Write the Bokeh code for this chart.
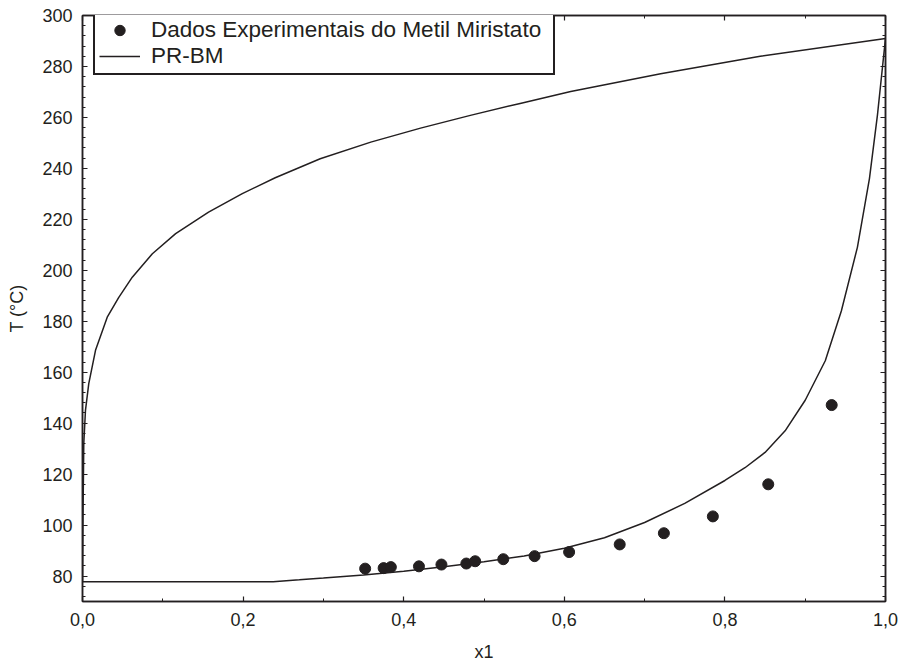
from bokeh.plotting import figure
from bokeh.models import (Range1d, LinearAxis, SingleIntervalTicker,
                          CustomJSTickFormatter, Legend, LegendItem)
from bokeh.embed import file_html
from bokeh.resources import INLINE

# Experimental data (Metil Miristato)
exp_x = [0.352, 0.375, 0.384, 0.419, 0.447, 0.478, 0.489, 0.524, 0.563,
         0.606, 0.669, 0.724, 0.785, 0.854, 0.933]
exp_T = [82.9, 83.1, 83.5, 83.8, 84.5, 84.9, 85.8, 86.6, 87.8,
         89.4, 92.4, 96.8, 103.4, 116.0, 147.1]

# PR-BM model: bubble (lower) curve
bub_x = [0.0, 0.2375, 0.27, 0.30, 0.35, 0.40, 0.45, 0.50, 0.55, 0.60, 0.65,
         0.70, 0.75, 0.80, 0.825, 0.85, 0.875, 0.90, 0.925, 0.945, 0.965,
         0.98, 0.99, 1.0]
bub_T = [77.8, 77.8, 78.5, 79.2, 80.4, 81.9, 83.6, 85.6, 87.9, 90.9, 95.0,
         101.0, 108.5, 117.5, 122.5, 128.5, 137.0, 149.0, 164.5, 184.0, 209.0,
         236.0, 261.0, 291.0]

# PR-BM model: dew (upper) curve
dew_x = [0.0, 0.0005, 0.0012, 0.0016, 0.0037, 0.0078, 0.0162, 0.0308, 0.045,
         0.062, 0.087, 0.116, 0.157, 0.199, 0.240, 0.296, 0.359, 0.421, 0.483,
         0.545, 0.608, 0.720, 0.844, 1.0]
dew_T = [77.8, 100.0, 120.0, 132.0, 145.0, 155.5, 168.6, 181.6, 189.3,
         197.3, 206.5, 214.4, 222.8, 230.1, 236.3, 243.8, 250.3, 255.8, 260.8,
         265.5, 270.2, 277.1, 284.0, 291.0]

x_label = "x1"
y_label = "T (°C)"
legend_labels = ["Dados Experimentais do Metil Miristato", "PR-BM"]

INK = "#231f20"
FONT = "Liberation Sans"

p = figure(width=902, height=666, output_backend="svg", toolbar_location=None,
           x_range=Range1d(0, 1), y_range=Range1d(70, 300),
           min_border_left=82, min_border_right=17, min_border_top=15,
           min_border_bottom=65)
p.xgrid.visible = False
p.ygrid.visible = False
p.outline_line_color = INK
p.outline_line_width = 1.5

xt = SingleIntervalTicker(interval=0.2, num_minor_ticks=2)
yt = SingleIntervalTicker(interval=20, num_minor_ticks=5)
fmt = CustomJSTickFormatter(code="return tick.toFixed(1).replace('.', ',');")


def style(ax):
    ax.axis_line_color = INK
    ax.axis_line_width = 1.5
    ax.major_tick_in = 5
    ax.major_tick_out = 0
    ax.minor_tick_in = 3
    ax.minor_tick_out = 0
    ax.major_tick_line_color = INK
    ax.minor_tick_line_color = INK
    ax.major_tick_line_width = 1.2
    ax.minor_tick_line_width = 1
    ax.major_label_text_font = FONT
    ax.major_label_text_font_size = "18px"
    ax.major_label_text_color = INK
    ax.axis_label_text_font = FONT
    ax.axis_label_text_font_size = "18px"
    ax.axis_label_text_font_style = "normal"
    ax.axis_label_text_color = INK


xa = p.xaxis[0]
xa.ticker = xt
xa.formatter = fmt
style(xa)
xa.axis_label = x_label
xa.major_label_standoff = 11
xa.axis_label_standoff = 13

ya = p.yaxis[0]
ya.ticker = yt
style(ya)
ya.axis_label = y_label
ya.major_label_standoff = 10
ya.axis_label_standoff = 12

for loc, tk in (("right", yt), ("above", xt)):
    ax = LinearAxis(ticker=tk)
    style(ax)
    ax.major_label_text_font_size = "0px"
    ax.major_label_text_color = None
    ax.major_label_standoff = 0
    p.add_layout(ax, loc)

r_lo = p.line(bub_x, bub_T, line_color=INK, line_width=1.5)
r_hi = p.line(dew_x, dew_T, line_color=INK, line_width=1.5)
r_pts = p.scatter(exp_x, exp_T, size=11, fill_color=INK, line_color=INK)

legend = Legend(items=[LegendItem(label=legend_labels[0], renderers=[r_pts]),
                       LegendItem(label=legend_labels[1], renderers=[r_lo])],
                location=(11, 526), margin=0, padding=4, spacing=0,
                glyph_width=41, glyph_height=26, label_height=26,
                label_standoff=11, label_width=398,
                label_text_font=FONT, label_text_font_size="22.5px",
                label_text_color=INK,
                border_line_color=INK, border_line_width=2,
                border_line_alpha=1,
                background_fill_color="white", background_fill_alpha=1)
p.add_layout(legend, "center")

open("out.html", "w").write(file_html(p, INLINE))
